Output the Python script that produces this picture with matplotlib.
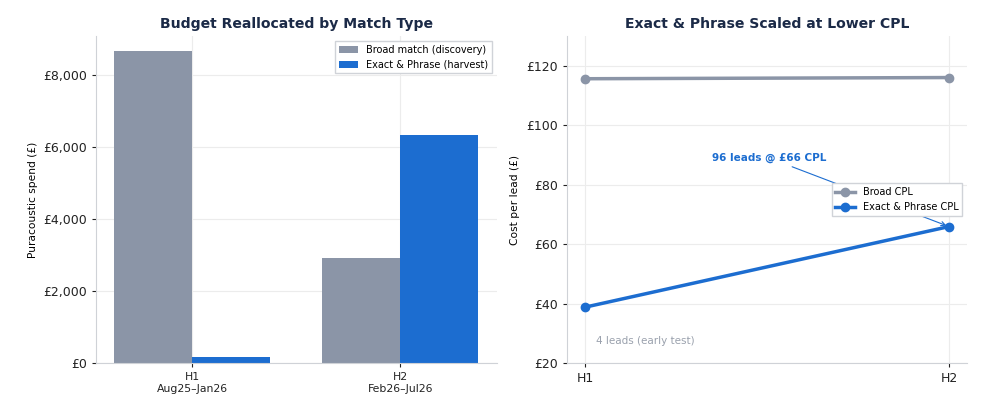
import numpy as np
import matplotlib.pyplot as plt

# Дані
periods = ['H1\nAug25–Jan26', 'H2\nFeb26–Jul26']
broad_spend = [8650, 2910]
exact_spend = [160, 6320]

cpl_periods = ['H1', 'H2']
broad_cpl = [115.6, 116.0]
exact_cpl = [38.8, 65.9]

grey = '#8b95a7'
blue = '#1c6dd0'
navy = '#1b2a47'

fig, (ax1, ax2) = plt.subplots(1, 2, figsize=(9.92, 4.08), dpi=100)
fig.subplots_adjust(left=0.097, right=0.975, top=0.912, bottom=0.11, wspace=0.175)


def style(ax):
    for s in ['top', 'right']:
        ax.spines[s].set_visible(False)
    for s in ['left', 'bottom']:
        ax.spines[s].set_color('#cfd2d7')
    ax.grid(True, color='#ececec', linewidth=0.8)
    ax.set_axisbelow(True)
    ax.tick_params(colors='#222222', length=3)


# Ліва панель: бюджет
x = np.arange(len(periods))
w = 0.375
ax1.bar(x - w / 2, broad_spend, w, color=grey, label='Broad match (discovery)')
ax1.bar(x + w / 2, exact_spend, w, color=blue, label='Exact & Phrase (harvest)')
ax1.set_xticks(x)
ax1.set_xticklabels(periods, fontsize=7.8)
ax1.yaxis.set_major_formatter(plt.FuncFormatter(lambda v, p: f'£{v:,.0f}'))
ax1.tick_params(axis='y', labelsize=9)
ax1.set_ylabel('Puracoustic spend (£)', fontsize=7.7)
ax1.set_title('Budget Reallocated by Match Type', fontsize=10.1, fontweight='bold', color=navy)
ax1.legend(loc='upper right', fontsize=7, framealpha=1, edgecolor='#d0d3d8', fancybox=False)
style(ax1)

# Права панель: CPL
xc = np.arange(len(cpl_periods))
ax2.plot(xc, broad_cpl, marker='o', color=grey, linewidth=2.5, markersize=6, label='Broad CPL')
ax2.plot(xc, exact_cpl, marker='o', color=blue, linewidth=2.5, markersize=6, label='Exact & Phrase CPL')
ax2.set_ylim(20, 130)
ax2.set_xticks(xc)
ax2.set_xticklabels(cpl_periods, fontsize=9)
ax2.yaxis.set_major_formatter(plt.FuncFormatter(lambda v, p: f'£{v:,.0f}'))
ax2.tick_params(axis='y', labelsize=9)
ax2.set_ylabel('Cost per lead (£)', fontsize=7.7)
ax2.set_title('Exact & Phrase Scaled at Lower CPL', fontsize=10.1, fontweight='bold', color=navy)
ax2.annotate('96 leads @ £66 CPL', xy=(xc[1], exact_cpl[1]), xytext=(0.505, 89),
             fontsize=7.5, fontweight='bold', color=blue, ha='center', va='center',
             arrowprops=dict(arrowstyle='->', color=blue, linewidth=0.8))
ax2.text(0.03, 27.3, '4 leads (early test)', fontsize=7.5, color='#9aa1ad', va='center')
ax2.legend(loc='center right', fontsize=7, framealpha=1, edgecolor='#d0d3d8', fancybox=False)
style(ax2)

plt.savefig('out.png', dpi=100)
